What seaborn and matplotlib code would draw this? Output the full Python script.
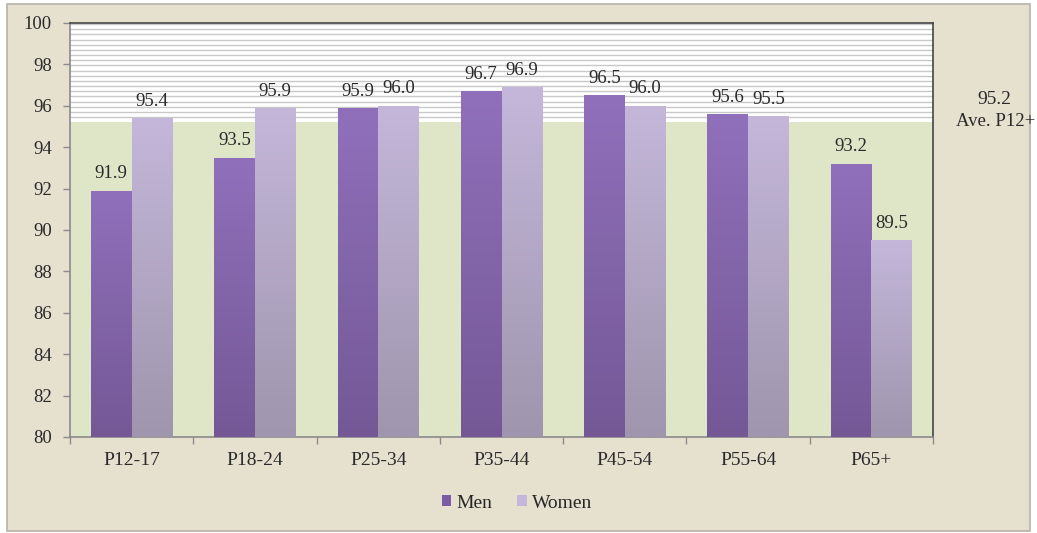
import numpy as np
import pandas as pd
import matplotlib
matplotlib.use("Agg")
import matplotlib.pyplot as plt
from matplotlib.patches import Rectangle, Patch
from matplotlib.colors import LinearSegmentedColormap
import seaborn as sns

# Data
age_groups = ["P12-17", "P18-24", "P25-34", "P35-44", "P45-54", "P55-64", "P65+"]
men = [91.9, 93.5, 95.9, 96.7, 96.5, 95.6, 93.2]
women = [95.4, 95.9, 96.0, 96.9, 96.0, 95.5, 89.5]
average = 95.2
average_label = "Ave. P12+"
series = ["Men", "Women"]

df = pd.DataFrame({
    "group": age_groups * 2,
    "value": men + women,
    "sex": ["Men"] * len(age_groups) + ["Women"] * len(age_groups),
})

BEIGE = "#e6e0cf"
GREEN = "#dfe6c8"
MEN_TOP, MEN_BOT = "#9070bb", "#745896"
WOM_TOP, WOM_BOT = "#c4b7da", "#9f95ad"
TEXT = "#2a2a2a"

sns.set_theme(style="white")
plt.rcParams["font.family"] = ["Liberation Serif", "DejaVu Serif"]

fig = plt.figure(figsize=(10.37, 5.33), dpi=100)
fig.patch.set_facecolor("white")

# Outer chart panel
W, H = 1037, 533
panel = Rectangle((7 / W, 1 - 531 / H), (1030 - 7) / W, (531 - 4) / H,
                  transform=fig.transFigure, facecolor=BEIGE,
                  edgecolor="#b8b3a6", linewidth=1.2, zorder=-5)
fig.patches.append(panel)

ax = fig.add_axes([70 / W, 1 - 437 / H, (933 - 70) / W, (437 - 23) / H])
ax.set_facecolor("white")

sns.barplot(data=df, x="group", y="value", hue="sex", hue_order=series,
            order=age_groups, palette=[MEN_TOP, WOM_TOP], width=0.66,
            gap=0, dodge=True, saturation=1, legend=False, ax=ax, zorder=3,
            linewidth=0, edgecolor="none")

# Background: green band below the average, striped white band above
ax.axhspan(80, average, color=GREEN, zorder=0, lw=0)
for y in np.arange(average + 0.25, 100.0, 0.25):
    ax.axhline(y, color="#c8c8c8", lw=1.0, zorder=1)

# Vertical gradient fill for each bar
cmaps = {
    "Men": LinearSegmentedColormap.from_list("m", [MEN_BOT, MEN_TOP]),
    "Women": LinearSegmentedColormap.from_list("w", [WOM_BOT, WOM_TOP]),
}
grad = np.linspace(0, 1, 256).reshape(-1, 1)
n = len(age_groups)
for i, patch in enumerate(ax.patches[:2 * n]):
    key = series[i // n]
    x0, y0 = patch.get_x(), patch.get_y()
    w, h = patch.get_width(), patch.get_height()
    im = ax.imshow(grad, cmap=cmaps[key], aspect="auto", origin="lower",
                   extent=(x0, x0 + w, 80, y0 + h), zorder=3.5)
    im.set_clip_path(patch)
    ax.annotate(f"{y0 + h:.1f}", (x0 + w / 2, y0 + h), xytext=(0, 6),
                textcoords="offset points", ha="center", va="bottom",
                fontsize=13.5, color=TEXT, zorder=5)

ax.set_xlim(-0.5, len(age_groups) - 0.5)
ax.set_ylim(80, 100)
ax.set_xlabel("")
ax.set_ylabel("")
ax.set_yticks(np.arange(80, 101, 2))
ax.tick_params(axis="y", direction="out", length=5, width=1, color="#8a8a8a",
               labelsize=13.5, labelcolor=TEXT, pad=8, left=True)
ax.set_xticks(range(n))
ax.set_xticklabels(age_groups)
ax.set_xticks(np.arange(-0.5, n, 1), minor=True)
ax.tick_params(axis="x", which="major", length=0, labelsize=14,
               labelcolor=TEXT, pad=11)
ax.tick_params(axis="x", which="minor", direction="out", length=5, width=1,
               color="#8a8a8a", bottom=True)

for side in ["left", "bottom"]:
    ax.spines[side].set_color("#8a8a8a")
    ax.spines[side].set_linewidth(1.2)
for side in ["top", "right"]:
    ax.spines[side].set_color("#444444")
    ax.spines[side].set_linewidth(1.2)

# Average annotation to the right of the plot
fig.text(994 / W, 1 - 100 / H, f"{average:.1f}", ha="center", va="center",
         fontsize=14, color=TEXT)
fig.text(1035 / W, 1 - 121 / H, average_label, ha="right", va="center",
         fontsize=13.5, color=TEXT)

handles = [Patch(facecolor="#7b5ba6", edgecolor="none"),
           Patch(facecolor=WOM_TOP, edgecolor="none")]
fig.legend(handles, series, loc="center", ncol=2,
           bbox_to_anchor=(517 / W, 1 - 503 / H), frameon=False,
           fontsize=14, handlelength=0.5, handleheight=0.5,
           handletextpad=0.25, columnspacing=1.3)

fig.savefig("out.png", dpi=100, facecolor=fig.get_facecolor())
